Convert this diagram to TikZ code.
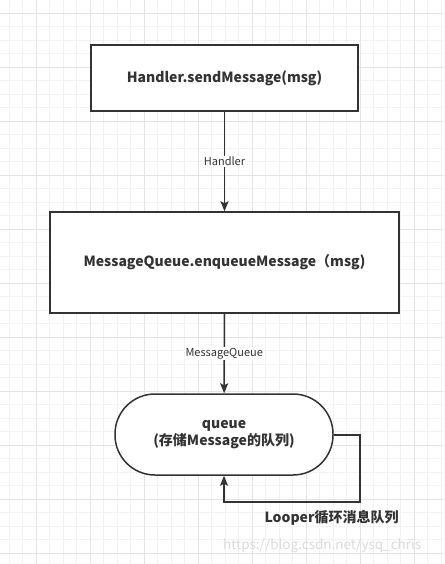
\documentclass[tikz,border=0pt]{standalone}
\usepackage{fontspec}
\setmainfont{Noto Sans CJK SC}
\usetikzlibrary{arrows.meta}
\definecolor{ink}{HTML}{333333}
\definecolor{gridminor}{HTML}{F2F2F2}
\definecolor{gridmajor}{HTML}{E4E4E4}
\tikzset{
  stepbox/.style={draw=ink,line width=1.5pt,fill=white,minimum width=#1,inner sep=0pt},
  flow/.style={draw=ink,line width=1.5pt,-{Stealth[length=10pt,width=8pt,inset=2pt]}},
  boxtext/.style={text=ink,font=\fontsize{14}{17}\selectfont\bfseries,align=center},
  linklabel/.style={fill=white,text=ink,font=\fontsize{11}{13}\selectfont,inner sep=1pt}
}
\begin{document}
\begin{tikzpicture}[x=1pt,y=-1pt]
  \useasboundingbox (0,0) rectangle (444,564);
  \fill[white] (0,0) rectangle (444,564);
  % grid
  \foreach \i in {0,...,32} \draw[gridminor,line width=0.8pt] ({9.3+13.5*\i},0) -- ++(0,564);
  \foreach \j in {0,...,41} \draw[gridminor,line width=0.8pt] (0,{13.3+13.5*\j}) -- ++(444,0);
  \foreach \i in {0,...,8} \draw[gridmajor,line width=0.8pt] ({36+54*\i},0) -- ++(0,564);
  \foreach \j in {0,...,10} \draw[gridmajor,line width=0.8pt] (0,{13.3+54*\j}) -- ++(444,0);

  \node[stepbox=267pt,minimum height=66pt,boxtext] (send) at (224.5,78) {Handler.sendMessage(msg)};
  \node[stepbox=349pt,minimum height=101pt,boxtext] (enqueue) at (224.5,262.5) {MessageQueue.enqueueMessage（msg)};
  \node[stepbox=218pt,minimum height=81pt,rounded corners=40pt,boxtext] (queue) at (224,434.5) {queue\\(存储Message的队列)};
  \coordinate (loopa) at (360,435);
  \coordinate (loopb) at (360,502);
  \coordinate (loopc) at (224,502);

  \draw[flow] (send) -- node[linklabel]{Handler} (enqueue);
  \draw[flow] (enqueue) -- node[linklabel]{MessageQueue} (queue);
  \draw[flow] (queue.east |- loopa) -- (loopa) -- (loopb) -- (loopc) -- (queue.south);

  \node[boxtext,anchor=west] (looper) at (261,518) {Looper循环消息队列};
  \node[text=black!14,font=\fontsize{13.5}{16}\selectfont,anchor=west,inner sep=0pt] (mark) at (223,546) {https://blog.csdn.net/ysq\_chris};
\end{tikzpicture}
\end{document}
